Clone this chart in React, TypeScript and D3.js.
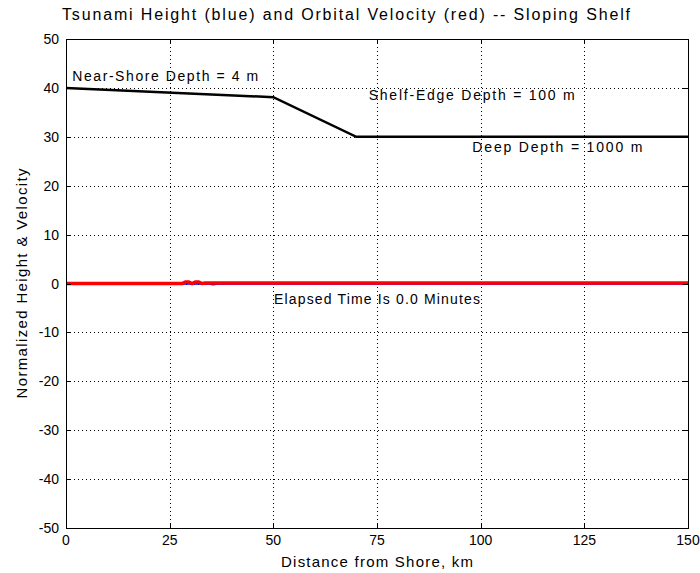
import React from 'react'
import * as d3 from 'd3'

// shelf profile (normalized depth drawn as a line)
const shelfKm = [0, 50, 70, 150]
const shelfLevel = [40, 38.1, 30, 30]

// wave height (blue) and orbital velocity (red) at t = 0
const heightKm = [0, 34.5, 35.5, 36.5, 150]
const heightVal = [0, 0, -0.15, 0, 0]
const velocityKm = [0, 28, 28.8, 29.6, 30.4, 31.2, 32, 32.8, 33.6, 150]
const velocityVal = [0, 0, 0.3, 0.3, 0, 0.3, 0.3, 0, 0.1, 0.1]

const xTicks = [0, 25, 50, 75, 100, 125, 150]
const yTicks = [-50, -40, -30, -20, -10, 0, 10, 20, 30, 40, 50]

const labels = [
  { text: 'Near-Shore Depth = 4 m', km: 1.5, y: 41.5, len: 186 },
  { text: 'Shelf-Edge Depth = 100 m', km: 73, y: 37.6, len: 206 },
  { text: 'Deep Depth = 1000 m', km: 98, y: 26.8, len: 170 },
]

const W = 700
const H = 573
const margin = { top: 39, right: 12, bottom: 45, left: 66 }
const font = '"Liberation Sans", Arial, sans-serif'

const App = () => {
  const x = d3.scaleLinear().domain([0, 150]).range([margin.left, W - margin.right])
  const y = d3.scaleLinear().domain([-50, 50]).range([H - margin.bottom, margin.top])
  const [x0, x1] = x.range()
  const [y0, y1] = y.range()
  const px = (v: number) => Math.round(v) + 0.5

  const path = (xs: number[], ys: number[]) =>
    d3
      .line<number>()
      .x((_, i) => x(xs[i]))
      .y((_, i) => y(ys[i]))(xs) as string

  return (
    <svg width={W} height={H} style={{ display: 'block', position: 'absolute', left: 0, top: 0 }}>
      <rect width={W} height={H} fill="#fff" />

      {/* grid */}
      <g stroke="#000" strokeWidth={1} strokeDasharray="1,3">
        {xTicks.slice(1, -1).map((t) => (
          <line key={'gx' + t} x1={px(x(t))} x2={px(x(t))} y1={y1} y2={y0} />
        ))}
        {yTicks.slice(1, -1).map((t) => (
          <line key={'gy' + t} x1={x0} x2={x1} y1={px(y(t))} y2={px(y(t))} />
        ))}
      </g>

      {/* series */}
      <path d={path(shelfKm, shelfLevel)} fill="none" stroke="#000" strokeWidth={2.5} />
      <path d={path(heightKm, heightVal)} fill="none" stroke="#0000ff" strokeWidth={2.5} />
      <path d={path(velocityKm, velocityVal)} fill="none" stroke="#ff0000" strokeWidth={3.5} />

      {/* frame + ticks */}
      <rect x={x0 + 0.5} y={y1 + 0.5} width={x1 - x0} height={y0 - y1} fill="none" stroke="#000" strokeWidth={1} />
      <g stroke="#000" strokeWidth={1}>
        {xTicks.map((t) => (
          <g key={'tx' + t}>
            <line x1={px(x(t))} x2={px(x(t))} y1={y0} y2={y0 - 5} />
            <line x1={px(x(t))} x2={px(x(t))} y1={y1} y2={y1 + 5} />
          </g>
        ))}
        {yTicks.map((t) => (
          <g key={'ty' + t}>
            <line x1={x0} x2={x0 + 5} y1={px(y(t))} y2={px(y(t))} />
            <line x1={x1} x2={x1 - 5} y1={px(y(t))} y2={px(y(t))} />
          </g>
        ))}
      </g>

      {/* tick labels */}
      <g fontFamily={font} fontSize={14} fill="#000">
        {xTicks.map((t) => (
          <text key={'lx' + t} x={x(t)} y={y0 + 17} textAnchor="middle">
            {t}
          </text>
        ))}
        {yTicks.map((t) => (
          <text key={'ly' + t} x={x0 - 7} y={y(t) + 5} textAnchor="end">
            {t}
          </text>
        ))}
      </g>

      {/* annotations */}
      <g fontFamily={font} fontSize={14} fill="#000">
        {labels.map((l) => (
          <text key={l.text} x={x(l.km)} y={y(l.y)} textLength={l.len} lengthAdjust="spacing">
            {l.text}
          </text>
        ))}
        <text x={(x0 + x1) / 2} y={y(0) + 20} textAnchor="middle" textLength={206} lengthAdjust="spacing">
          Elapsed Time Is 0.0 Minutes
        </text>
      </g>

      {/* titles */}
      <text x={62} y={20} fontFamily={font} fontSize={16} textLength={568} lengthAdjust="spacing">
        Tsunami Height (blue) and Orbital Velocity (red) -- Sloping Shelf
      </text>
      <text
        x={(x0 + x1) / 2}
        y={H - 6}
        fontFamily={font}
        fontSize={15}
        textAnchor="middle"
        textLength={192}
        lengthAdjust="spacing"
      >
        Distance from Shore, km
      </text>
      <text
        transform={`translate(27, ${(y0 + y1) / 2}) rotate(-90)`}
        fontFamily={font}
        fontSize={15}
        textAnchor="middle"
        textLength={230}
        lengthAdjust="spacing"
      >
        Normalized Height &amp; Velocity
      </text>
    </svg>
  )
}

export default App
